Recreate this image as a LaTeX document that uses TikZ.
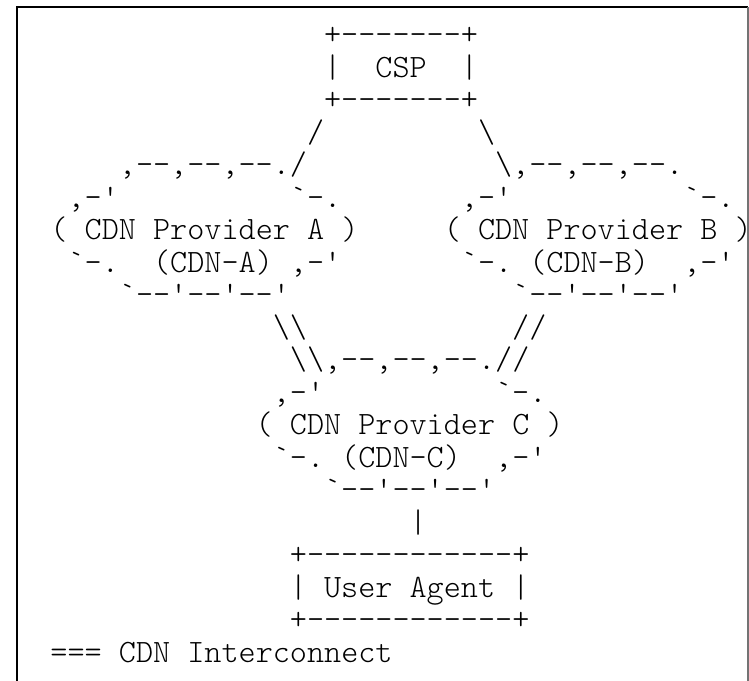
\documentclass[tikz,border=0pt]{standalone}
\usepackage{fontspec}
\newfontfamily\asciifont{lmmonolt10-regular.otf}
\tikzset{
  ascii/.style={font=\asciifont\fontsize{16.29pt}{16.25pt}\selectfont\frenchspacing, inner sep=0pt, anchor=base west},
  frame/.style={line width=1pt, draw=black}
}
\begin{document}
\begin{tikzpicture}[x=8.55pt, y=-16.25pt]

\useasboundingbox ( -16.5pt, 6pt ) rectangle ( 358pt, -334pt );

% Frame
\draw [frame] ( -8pt, -340pt ) -- ( -8pt, 2.5pt ) -- ( 357.5pt, 2.5pt );
\draw [frame, draw=black!55] ( 357.5pt, 2.5pt ) -- ( 357.5pt, -340pt );

% CSP
\node [ascii] (csptop) at ( 17, 1 ) {+-------+};
\node [ascii] (csp) at ( 17, 2 ) {|~~CSP~~|};
\node [ascii] (cspbot) at ( 17, 3 ) {+-------+};
\node [ascii] (linkA) at ( 16, 4 ) {/};
\node [ascii] (linkB) at ( 26, 4 ) {\textbackslash};

% CDN Provider A
\node [ascii] (topA) at ( 5, 5 ) {,--,--,--./};
\node [ascii] (nwA) at ( 2, 6 ) {,-'};
\node [ascii] (neA) at ( 15, 6 ) {`-.};
\node [ascii] (cdnA) at ( 1, 7 ) {( CDN Provider A )};
\node [ascii] (subA) at ( 2, 8 ) {`-.~~(CDN-A) ,-'};
\node [ascii] (botA) at ( 5, 9 ) {`--'--'--'};

% CDN Provider B
\node [ascii] (topB) at ( 27, 5 ) {\textbackslash,--,--,--.};
\node [ascii] (nwB) at ( 25, 6 ) {,-'};
\node [ascii] (neB) at ( 38, 6 ) {`-.};
\node [ascii] (cdnB) at ( 24, 7 ) {( CDN Provider B \rlap{)}};
\node [ascii] (subB) at ( 25, 8 ) {`-. (CDN-B)~~,-'};
\node [ascii] (botB) at ( 28, 9 ) {`--'--'--'};

% Interconnects
\node [ascii] (linkAC) at ( 14, 10 ) {\textbackslash\textbackslash};
\node [ascii] (linkBC) at ( 28, 10 ) {//};

% CDN Provider C
\node [ascii] (topC) at ( 15, 11 ) {\textbackslash\textbackslash,--,--,--.//};
\node [ascii] (nwC) at ( 14, 12 ) {,-'};
\node [ascii] (neC) at ( 27, 12 ) {`-.};
\node [ascii] (cdnC) at ( 13, 13 ) {( CDN Provider C )};
\node [ascii] (subC) at ( 14, 14 ) {`-. (CDN-C)~~,-'};
\node [ascii] (botC) at ( 17, 15 ) {`--'--'--'};

% User Agent
\node [ascii] (linkUA) at ( 22, 16 ) {|};
\node [ascii] (uatop) at ( 15, 17 ) {+------------+};
\node [ascii] (ua) at ( 15, 18 ) {| User Agent |};
\node [ascii] (uabot) at ( 15, 19 ) {+------------+};

% Legend
\node [ascii] (legend) at ( 1, 20 ) {=== CDN Interconnect};

\end{tikzpicture}
\end{document}
